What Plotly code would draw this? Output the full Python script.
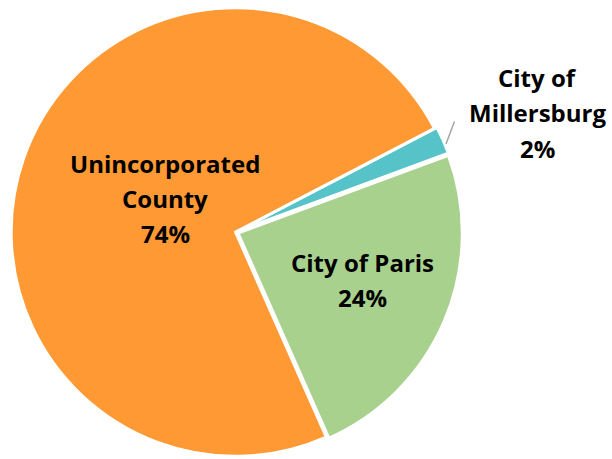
import plotly.graph_objects as go

labels = ["City of Millersburg", "City of Paris", "Unincorporated County"]
label_lines = [["City of", "Millersburg"], ["City of Paris"], ["Unincorporated", "County"]]
values = [2, 24, 74]
colors = ["#55C3C7", "#A9D18E", "#FE9934"]
pulls = [0.012, 0.012, 0.0]

W, H = 612, 459

fig = go.Figure(go.Pie(
    labels=labels,
    values=values,
    sort=False,
    direction="clockwise",
    rotation=62.5,
    pull=pulls,
    marker=dict(colors=colors, line=dict(color="white", width=3)),
    textinfo="none",
    hoverinfo="label+percent",
    domain=dict(x=[8.5 / W, 462.5 / W], y=[1 - 459 / H, 1 - 5 / H]),
    showlegend=False,
))

# label block anchors (pixel centre of first line), line spacing in pixels
anchors = [(537, 77), (362, 262), (165, 163)]
spacing = 35.5
font = dict(family="'Open Sans', sans-serif", size=24, color="#000000")

annotations = []
for lines, v, (px, py) in zip(label_lines, values, anchors):
    all_lines = lines + [f"{v}%"]
    for i, t in enumerate(all_lines):
        annotations.append(dict(
            x=px / W, y=1 - (py + i * spacing) / H,
            xref="paper", yref="paper",
            text=f"<b>{t}</b>", showarrow=False,
            font=font, xanchor="center", yanchor="middle",
        ))

# leader line for the small slice
annotations.append(dict(
    x=446 / W, y=1 - 144 / H, xref="paper", yref="paper",
    ax=9, ay=-24, text="", showarrow=True, arrowhead=0,
    arrowwidth=1.5, arrowcolor="#A6A6A6",
))

fig.update_layout(
    width=W, height=H,
    margin=dict(l=0, r=0, t=0, b=0),
    paper_bgcolor="white", plot_bgcolor="white",
    annotations=annotations,
)

fig.write_html(
    "out.html",
    config={"displayModeBar": False},
    post_script="document.body.style.margin='0';document.body.style.overflow='hidden';",
)
